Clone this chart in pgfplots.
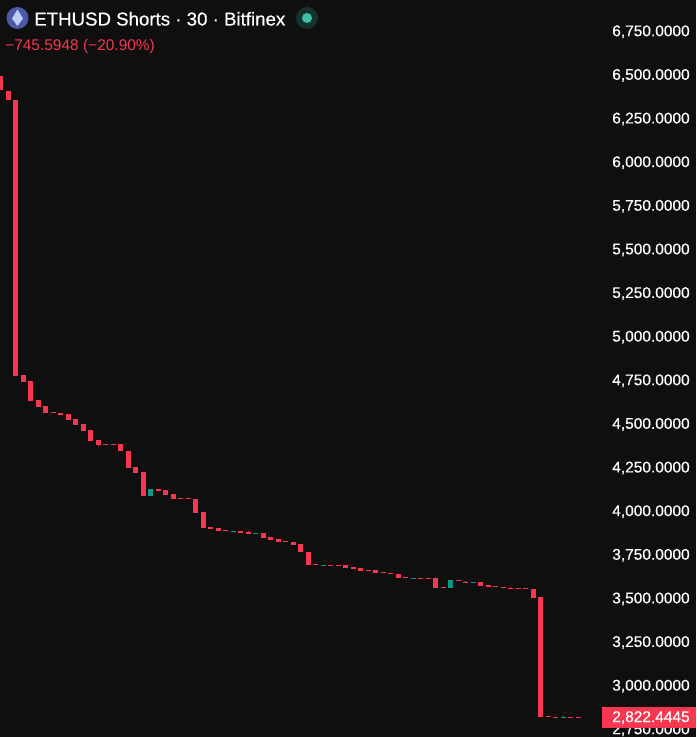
\documentclass[border=0pt]{standalone}
\usepackage{fontspec}
\setmainfont{Liberation Sans}
\newfontfamily\semibold[FakeBold=0.5]{Liberation Sans}
\usepackage{pgfplots}
\usepackage{pgfplotstable}
\pgfplotsset{compat=1.18}
\definecolor{bg}{HTML}{0F0F0F}
\definecolor{cdown}{HTML}{F7374F}
\definecolor{cup}{HTML}{089981}

% i top bottom
\pgfplotstableread{
i top bot
0 6492.1 6411.9
1 6406.2 6354.6
2 6354.6 4772.9
3 4778.6 4738.5
4 4744.3 4629.6
5 4635.4 4595.2
6 4601.0 4560.9
7 4566.6 4560.9
8 4560.9 4549.4
9 4555.2 4520.7
10 4526.5 4492.1
11 4497.8 4457.7
12 4463.5 4400.4
13 4406.2 4377.5
14 4383.2 4377.5
15 4383.2 4377.5
16 4383.2 4343.1
17 4343.1 4245.7
18 4251.4 4217.0
19 4222.8 4085.2
21 4125.4 4113.9
22 4119.6 4090.9
23 4096.6 4068.0
24 4073.7 4068.0
25 4073.7 4068.0
26 4068.0 3987.8
27 3993.5 3901.8
28 3907.5 3896.0
29 3901.8 3884.6
30 3890.3 3884.6
32 3884.6 3873.1
33 3878.9 3867.4
35 3873.1 3844.5
36 3850.2 3833.0
37 3838.8 3821.6
38 3827.3 3821.6
39 3821.6 3804.4
40 3810.1 3764.3
41 3764.3 3689.8
42 3695.6 3689.8
44 3689.8 3684.1
45 3689.8 3684.1
46 3689.8 3672.7
47 3678.4 3666.9
48 3672.7 3655.5
49 3661.2 3655.5
50 3661.2 3644.0
51 3649.8 3644.0
52 3644.0 3638.3
53 3638.3 3615.3
54 3621.1 3615.3
56 3615.3 3609.6
57 3615.3 3609.6
58 3615.3 3558.0
59 3563.7 3558.0
61 3603.9 3598.1
62 3592.4 3586.7
64 3592.4 3569.4
65 3575.2 3563.7
66 3569.4 3563.7
67 3563.7 3558.0
68 3558.0 3552.3
69 3558.0 3552.3
70 3558.0 3552.3
71 3552.3 3500.7
72 3506.5 2818.8
73 2824.5 2818.8
74 2818.8 2813.0
76 2818.8 2813.0
77 2818.8 2813.0
}\downbars

\pgfplotstableread{
i top bot
20 4125.4 4085.2
31 3884.6 3878.9
34 3873.1 3867.4
43 3689.8 3684.1
55 3615.3 3609.6
60 3603.9 3558.0
63 3592.4 3586.7
75 2818.8 2813.0
}\upbars

\pgfplotstableread{
i top bot
13 4377.5 4371.8
33 3884.6 3878.9
62 3598.1 3592.4
68 3563.7 3558.0
}\downwicks

\pgfplotstableread{
i top bot
75 2824.5 2818.8
}\upwicks

\begin{document}
\begin{tikzpicture}[x=0.75pt,y=-0.75pt]
\fill[bg] (0,0) rectangle (696,737);
\useasboundingbox (0,0) rectangle (696,737);
\begin{axis}[
    at={(0pt,-552.75pt)}, anchor=south west,
    scale only axis,
    width=454.5pt, height=552.75pt,
    xmin=-0.0667, xmax=80.733,
    ymin=2704.1, ymax=6927.65,
    axis line style={draw=none},
    major tick length=0pt,
    xtick=\empty,
    ytick={2750,3000,...,6750},
    yticklabel pos=right,
    yticklabel style={
        /pgf/number format/fixed,
        /pgf/number format/fixed zerofill,
        /pgf/number format/precision=4,
        /pgf/number format/1000 sep={,},
        /pgf/number format/assume math mode=true,
        anchor=west, inner sep=0pt, xshift=4.5pt, yshift=-0.6pt,
        text=white, font=\fontsize{11.6}{11.6}\semibold},
    clip=true,
]
\addplot[draw=none, forget plot, error bars/.cd, y dir=plus, y explicit, error mark=none,
    error bar style={line width=3.75pt, solid, draw=cdown}]
    table[x=i, y=bot, y error expr=\thisrow{top}-\thisrow{bot}] {\downbars};
\addplot[draw=none, forget plot, error bars/.cd, y dir=plus, y explicit, error mark=none,
    error bar style={line width=3.75pt, solid, draw=cup}]
    table[x=i, y=bot, y error expr=\thisrow{top}-\thisrow{bot}] {\upbars};
\addplot[draw=none, forget plot, error bars/.cd, y dir=plus, y explicit, error mark=none,
    error bar style={line width=0.75pt, solid, draw=cdown}]
    table[x=i, y=bot, y error expr=\thisrow{top}-\thisrow{bot}] {\downwicks};
\addplot[draw=none, forget plot, error bars/.cd, y dir=plus, y explicit, error mark=none,
    error bar style={line width=0.75pt, solid, draw=cup}]
    table[x=i, y=bot, y error expr=\thisrow{top}-\thisrow{bot}] {\upwicks};
\end{axis}
% header and price tag
\fill[cdown] (602,707) rectangle (696,728);
\node[anchor=base west, inner sep=0pt, text=white, font=\fontsize{11.6}{11.6}\semibold] at (612,722) {2,822.4445};
\fill[fill={rgb,255:red,74;green,88;blue,168}] (17.5,18) circle[radius=11];
\fill[fill={rgb,255:red,190;green,205;blue,245}] (17.5,9.5) -- (23,18.5) -- (17.5,26) -- (12,18.5) -- cycle;
\node[anchor=base west, inner sep=0pt, text=white, font=\fontsize{14}{14}\semibold] at (34,25.5) {ETHUSD Shorts · 30 · Bitfinex};
\node[anchor=base west, inner sep=0pt, text=cdown, font=\fontsize{11.6}{11.6}\selectfont] at (5,50.5) {−745.5948 (−20.90\%)};
\fill[fill={rgb,255:red,20;green,50;blue,46}] (307,18) circle[radius=11];
\fill[fill={rgb,255:red,66;green,190;blue,166}] (307,18) circle[radius=5];
\end{tikzpicture}
\end{document}
